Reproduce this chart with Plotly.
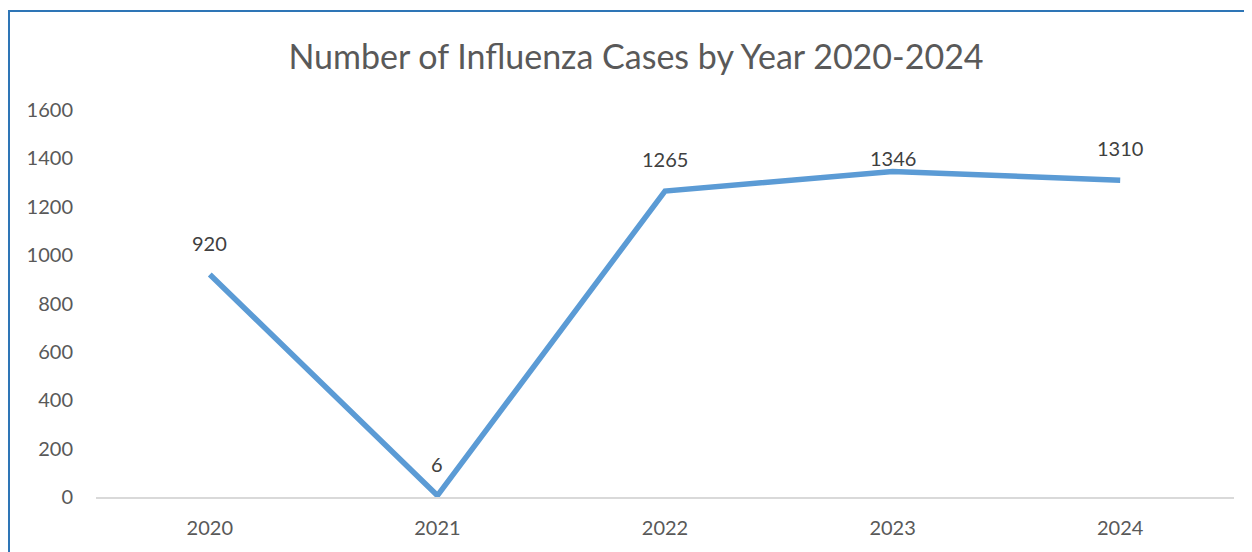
import plotly.graph_objects as go

years = ["2020", "2021", "2022", "2023", "2024"]
cases = [920, 6, 1265, 1346, 1310]
y_ticks = [0, 200, 400, 600, 800, 1000, 1200, 1400, 1600]
title_text = "Number of Influenza Cases by Year 2020-2024"

# vertical offset (px) of each data label above its point, as placed in the reference
label_shift = [31, 32, 32, 13, 32]

# page body has an 8px margin, so the figure starts at (8, 8) in the window
OFF = 8
W, H = 1252 - OFF, 552 - OFF
ML, MR, MT, MB = 96 - OFF, 18, 110 - OFF, 55
FONT = "Lato, Carlito, sans-serif"

fig = go.Figure()
fig.add_trace(go.Scatter(
    x=years, y=cases, mode="lines",
    line=dict(color="#5B9BD5", width=5.5),
    cliponaxis=False, hoverinfo="skip", showlegend=False,
))

for i, (v, s) in enumerate(zip(cases, label_shift)):
    fig.add_annotation(x=i, y=v, xref="x", yref="y", text=str(v), showarrow=False,
                       yshift=s, font=dict(family=FONT, size=20, color="#404040"))

pw = W - ML - MR
ph = H - MT - MB
def px_x(p):
    return (p - OFF - ML) / pw
def px_y(p):
    return (H - MB - (p - OFF)) / ph

# chart frame (left and top edges visible)
fig.add_shape(type="line", xref="paper", yref="paper",
              x0=px_x(9), x1=px_x(9), y0=px_y(10), y1=px_y(560),
              line=dict(color="#2E75B6", width=2))
fig.add_shape(type="line", xref="paper", yref="paper",
              x0=px_x(8), x1=px_x(1260), y0=px_y(11), y1=px_y(11),
              line=dict(color="#2E75B6", width=2))

fig.update_layout(
    width=W, height=H,
    margin=dict(l=ML, r=MR, t=MT, b=MB),
    paper_bgcolor="white", plot_bgcolor="white",
    title=dict(text=title_text, x=(636 - OFF) / W, xanchor="center",
               y=1 - (57 - OFF) / H, yanchor="middle",
               font=dict(family=FONT, size=34, color="#595959")),
    xaxis=dict(type="category", range=[-0.5, 4.5], showgrid=False,
               showline=True, linecolor="#D9D9D9", linewidth=2,
               ticks="", ticklabelstandoff=12,
               tickfont=dict(family=FONT, size=20, color="#595959"),
               zeroline=False, fixedrange=True),
    yaxis=dict(range=[0, 1600], tickvals=y_ticks, showgrid=False,
               zeroline=False, showline=False, ticks="",
               ticklabelstandoff=22,
               tickfont=dict(family=FONT, size=20, color="#595959"),
               fixedrange=True),
)

fig.write_html("out.html")
